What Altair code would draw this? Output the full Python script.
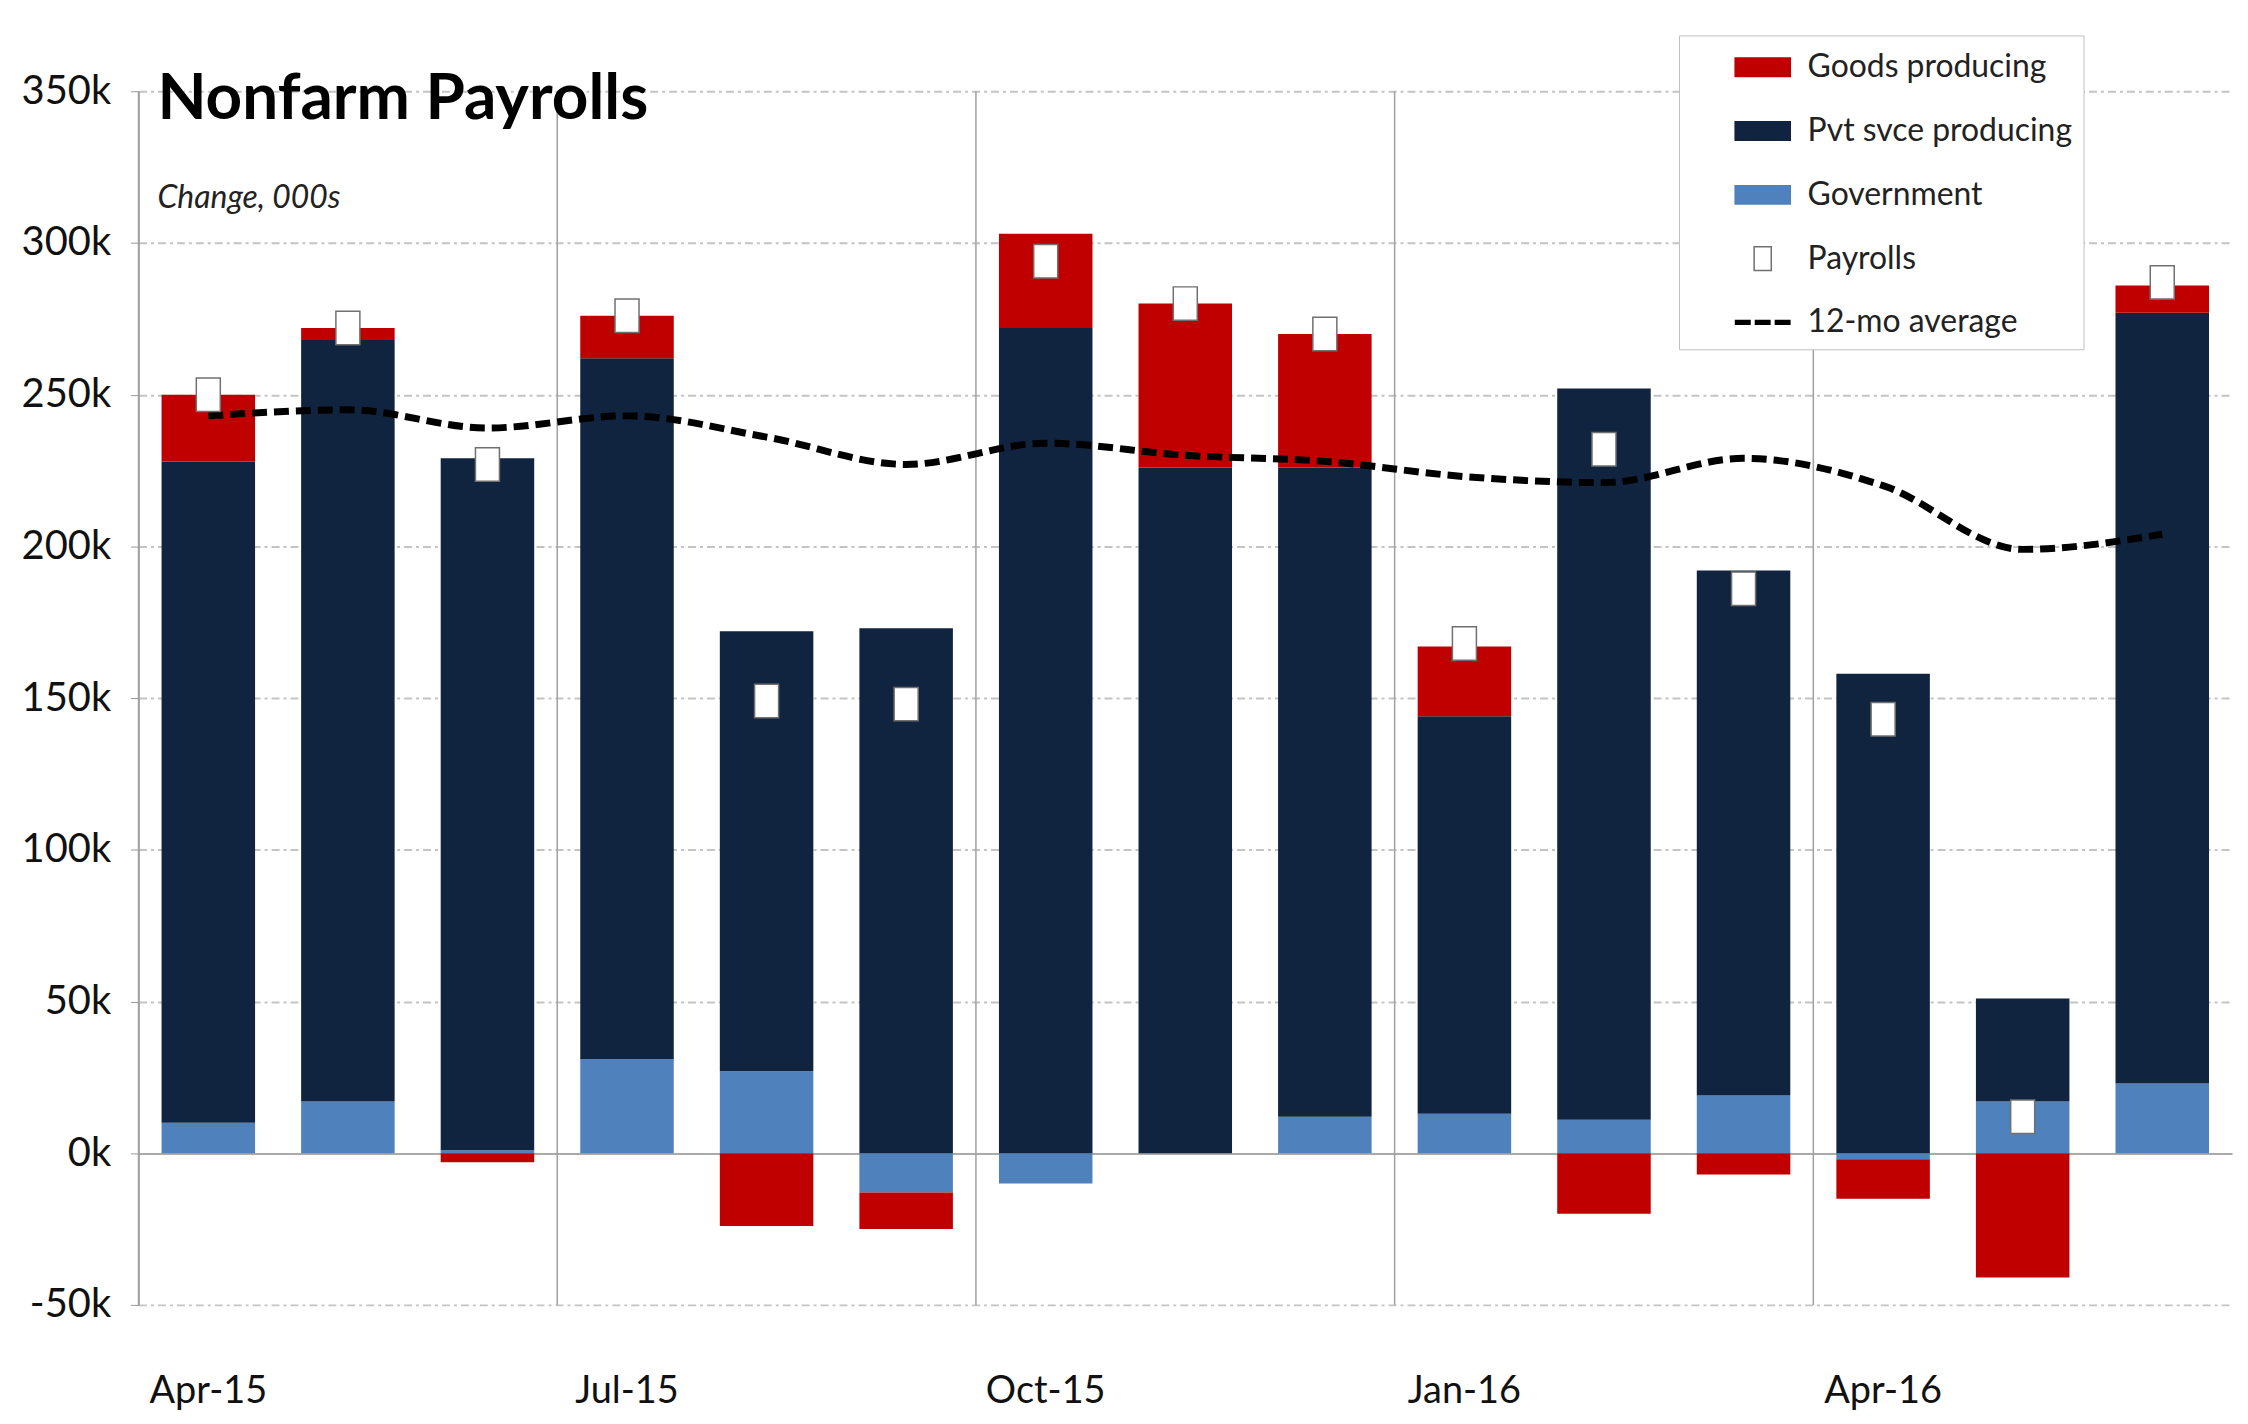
import altair as alt
import pandas as pd

# ---- data (thousands of jobs) ----
months = ["Apr-15", "May-15", "Jun-15", "Jul-15", "Aug-15", "Sep-15", "Oct-15",
          "Nov-15", "Dec-15", "Jan-16", "Feb-16", "Mar-16", "Apr-16", "May-16", "Jun-16"]
goods = [22, 4, -3, 14, -24, -12, 31, 54, 44, 23, -20, -7, -13, -41, 9]
pvt = [218, 251, 228, 231, 145, 173, 272, 226, 214, 131, 241, 173, 158, 34, 254]
gov = [10, 17, 1, 31, 27, -13, -10, 0, 12, 13, 11, 19, -2, 17, 23]
payrolls = [250, 272, 227, 276, 149, 148, 294, 280, 270, 168, 232, 186, 143, 12, 287]
avg12 = [243, 245, 239, 243, 236, 227, 234, 230, 228, 223, 221, 229, 220, 199, 204]

quarter_starts = ["Apr-15", "Jul-15", "Oct-15", "Jan-16", "Apr-16"]
y_ticks = [-50, 0, 50, 100, 150, 200, 250, 300, 350]

series_names = ["Goods producing", "Pvt svce producing", "Government", "Payrolls", "12-mo average"]
series_fill = ["#C00000", "#10243F", "#4F81BD", "#FFFFFF", "#000000"]
series_stroke = ["transparent", "transparent", "transparent", "#707070", "transparent"]
bar_path = "M-1.42,-0.5h2.84v1h-2.84z"
payroll_path = "M-0.43,-0.6h0.86v1.2h-0.86z"
avg_path = ("M-1.4,-0.13h0.8v0.26h-0.8z M-0.4,-0.13h0.8v0.26h-0.8z "
            "M0.6,-0.13h0.8v0.26h-0.8z")
series_shape = [bar_path, bar_path, bar_path, payroll_path, avg_path]
stack_order = {"Government": 0, "Pvt svce producing": 1, "Goods producing": 2}

rows = []
for i, m in enumerate(months):
    for name, vals in (("Government", gov), ("Pvt svce producing", pvt), ("Goods producing", goods)):
        rows.append({"month": m, "series": name, "value": vals[i], "ord": stack_order[name]})
bars_df = pd.DataFrame(rows)
line_df = pd.DataFrame({"month": months, "payrolls": payrolls, "avg": avg12,
                        "series": ["Payrolls"] * len(months)})
q_df = pd.DataFrame({"month": quarter_starts})

FONT = "Lato"

x_scale = alt.Scale(domain=months, paddingInner=0, paddingOuter=0)
y_scale = alt.Scale(domain=[-50, 350], nice=False, zero=False)
fill_scale = alt.Scale(domain=series_names, range=series_fill)
stroke_scale = alt.Scale(domain=series_names, range=series_stroke)
shape_scale = alt.Scale(domain=series_names, range=series_shape)

x_axis = alt.Axis(title=None, values=quarter_starts, labelFont=FONT, labelFontSize=38,
                  labelColor="#111111", labelAngle=0, ticks=False, domain=False, grid=False,
                  labelPadding=68)
y_axis = alt.Axis(title=None, values=y_ticks, labelExpr="datum.value + 'k'", labelFont=FONT,
                  labelFontSize=40, labelColor="#111111", tickSize=8, tickColor="#999999",
                  labelPadding=20, domain=True, domainColor="#999999", domainWidth=1.5,
                  grid=True,
                  gridDash=alt.condition("datum.value === 0", alt.value([1, 0]), alt.value([8, 4, 3, 4])),
                  gridColor=alt.condition("datum.value === 0", alt.value("#aaaaaa"), alt.value("#c4c4c4")),
                  gridWidth=2)

legend = alt.Legend(title=None, orient="none", legendX=1546, legendY=-56,
                    fillColor="white", strokeColor="#c0c0c0", padding=11,
                    symbolSize=1600, symbolOffset=52, labelOffset=24, rowPadding=27,
                    symbolStrokeWidth=1.5,
                    labelFont=FONT, labelFontSize=32, labelColor="#222222", labelLimit=0)

quarter_lines = alt.Chart(q_df).mark_rule(color="#a0a0a0", strokeWidth=1.5).encode(
    x=alt.X("month:N", scale=x_scale, axis=x_axis, sort=months, bandPosition=0)
)

bars = alt.Chart(bars_df).mark_bar(width=alt.RelativeBandSize(0.67)).encode(
    x=alt.X("month:N", scale=x_scale, axis=x_axis, sort=months),
    y=alt.Y("sum(value):Q", scale=y_scale, axis=y_axis, stack="zero"),
    fill=alt.Fill("series:N", scale=fill_scale, legend=legend),
    order=alt.Order("ord:Q", sort="ascending"),
)

avg_line = alt.Chart(line_df).mark_line(color="black", strokeWidth=7, strokeDash=[15, 7],
                                        interpolate="monotone").encode(
    x=alt.X("month:N", scale=x_scale, sort=months),
    y=alt.Y("avg:Q", scale=y_scale),
)

points = alt.Chart(line_df).mark_point(filled=True, strokeWidth=1.5, size=3136, opacity=1).encode(
    x=alt.X("month:N", scale=x_scale, sort=months),
    y=alt.Y("payrolls:Q", scale=y_scale),
    fill=alt.Fill("series:N", scale=fill_scale, legend=legend),
    stroke=alt.Stroke("series:N", scale=stroke_scale, legend=legend),
    shape=alt.Shape("series:N", scale=shape_scale, legend=legend),
)

chart = alt.layer(quarter_lines, bars, avg_line, points).properties(
    width=2101, height=1218,
    autosize=alt.AutoSizeParams(type="none"),
    padding={"left": 131, "top": 81, "right": 8, "bottom": 110},
    background="white",
    title=alt.Title("Nonfarm Payrolls", subtitle="Change, 000s", anchor="start", frame="group",
                    font=FONT, fontSize=64, fontWeight="bold", color="#000000",
                    subtitleFont=FONT, subtitleFontSize=32, subtitleFontStyle="italic",
                    subtitleColor="#222222", subtitlePadding=52, dx=19, dy=180, offset=0),
).configure_view(stroke=None)

chart.save("out.html", embed_options={"renderer": "svg", "actions": False})
